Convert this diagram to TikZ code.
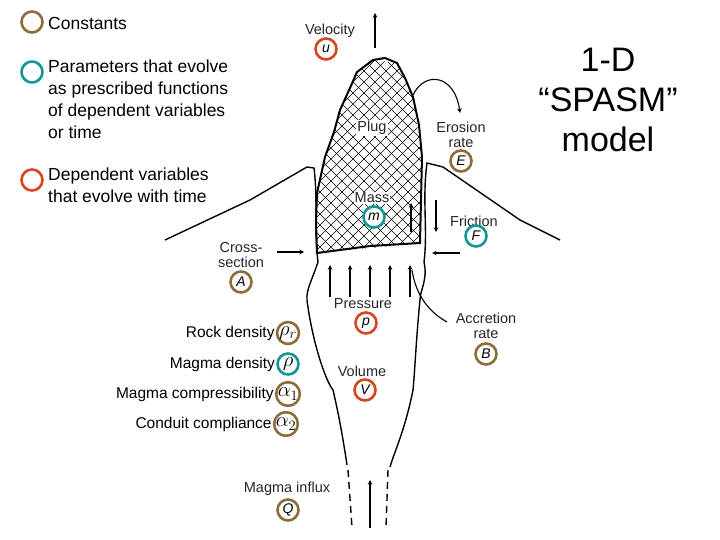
\documentclass[tikz,border=0pt]{standalone}
\usepackage{fontspec}
\setmainfont{Liberation Sans}
\definecolor{cbrown}{RGB}{140,110,60}
\definecolor{cred}{RGB}{215,70,30}
\definecolor{cteal}{RGB}{20,150,150}
\begin{document}
\begin{tikzpicture}[x=1pt,y=-1pt,
 circ/.style={circle,draw=#1,line width=2.6pt,minimum size=21pt,inner sep=0pt,font=\fontsize{14}{14}\selectfont\itshape},
 gk/.style={circ=#1,font=\fontsize{22}{22}\selectfont},
 lbl/.style={font=\fontsize{14.5}{15}\selectfont,align=center,text=black!85},
 leg/.style={font=\fontsize{17.5}{22}\selectfont,align=left,anchor=north west,inner sep=0pt},
 lst/.style={font=\fontsize{15.5}{16}\selectfont,anchor=east,inner sep=1pt},
 ar/.style={->,line width=1.1pt,>=stealth},
 wall/.style={line width=1.4pt}]
\useasboundingbox (0,0) rectangle (720,540);
% legend
\node[circ=cbrown] (l1) at (32,22) {};
\node[circ=cteal] (l2) at (32,72) {};
\node[circ=cred] (l3) at (32,180) {};
\node[leg] (t1) at (48,17) {Constants};
\node[leg] (t2) at (48,60) {Parameters that evolve\\as prescribed functions\\of dependent variables\\or time};
\node[leg] (t3) at (48,168) {Dependent variables\\that evolve with time};
% title
\node[font=\fontsize{34}{40}\selectfont,align=center] (title) at (608,100) {1-D\\“SPASM”\\model};
% volcano outline
\draw[wall] (165,240) -- (250,200) -- (307,167) -- (314,168) .. controls (318,200) and (314,230) .. (318,262) .. controls (312,280) and (306,290) .. (307,300) .. controls (312,340) and (325,380) .. (333,390) .. controls (340,420) and (344,445) .. (347,465);
\draw[wall] (560,240) -- (520,220) -- (443,167) -- (427,163) .. controls (422,200) and (428,230) .. (424,262) .. controls (428,280) and (420,290) .. (420,300) .. controls (416,340) and (415,370) .. (413,390) .. controls (405,430) and (395,450) .. (390,467);
\draw[wall,dash pattern=on 7pt off 5pt] (348,470) -- (352,527);
\draw[wall,dash pattern=on 7pt off 5pt] (388,470) -- (386,527);
% plug with coarse crosshatch
\begin{scope}
\clip (373,60) -- (397,63) -- (413,97) -- (422,157) -- (420,243) -- (317,253) -- (317,193) -- (325,157) -- (340,110) -- (357,72) -- cycle;
\foreach \k in {-20,...,20}{
 \draw[line width=0.6pt] (300+\k*11,40) -- ++(230,230);
 \draw[line width=0.6pt] (450+\k*11,40) -- ++(-230,230);}
\end{scope}
\draw[line width=2pt] (373,60) -- (385,58) -- (397,63) -- (405,78) -- (413,97) -- (419,125) -- (422,157) -- (421,200) -- (420,243) -- (370,246) -- (317,253) -- (316,222) -- (317,193) -- (325,157) -- (334,132) -- (340,110) -- (350,88) -- (357,72) -- cycle;
% arrows
\coordinate (v0) at (375,48); \coordinate (v1) at (375,13);
\draw[ar] (v0) -- (v1);
\coordinate (e0) at (413,95); \coordinate (e1) at (460,113);
\draw[ar] (e0) .. controls (425,70) and (455,75) .. (e1);
\coordinate (f0) at (411,232); \coordinate (f1) at (411,203);
\draw[ar] (f0) -- (f1);
\coordinate (g0) at (436,200); \coordinate (g1) at (436,232);
\draw[ar] (g0) -- (g1);
\coordinate (c0) at (277,252); \coordinate (c1) at (304,252);
\draw[ar] (c0) -- (c1);
\coordinate (d0) at (460,253); \coordinate (d1) at (432,253);
\draw[ar] (d0) -- (d1);
\foreach \x in {330,350,370,390,410}{\coordinate (p0) at (\x,297); \coordinate (p1) at (\x,265); \draw[ar] (p0) -- (p1);}
\coordinate (q0) at (370,528); \coordinate (q1) at (370,480);
\draw[ar] (q0) -- (q1);
\coordinate (b0) at (447,322); \coordinate (b1) at (412,270);
\draw[line width=1.1pt] (b0) .. controls (425,310) and (415,290) .. (b1);
% labels
\node[lbl] (vel) at (330,31) {Velocity};
\node[circ=cred] (u) at (326,49) {u};
\node[lbl,fill=white,inner sep=1pt] (plug) at (372,128) {Plug};
\node[lbl,fill=white,inner sep=1pt] (mass) at (372,198) {Mass};
\node[circ=cteal,fill=white] (m) at (374,217) {m};
\node[lbl] (ero) at (461,135) {Erosion\\rate};
\node[circ=cbrown] (E) at (461,161) {E};
\node[lbl] (fri) at (474,221) {Friction};
\node[circ=cteal] (F) at (476,236) {F};
\node[lbl] (cro) at (241,255) {Cross-\\section};
\node[circ=cbrown] (A) at (241,282) {A};
\node[lbl] (pre) at (363,304) {Pressure};
\node[circ=cred] (p) at (366,323) {p};
\node[lbl] (acc) at (486,326) {Accretion\\rate};
\node[circ=cbrown] (B) at (486,354) {B};
\node[lbl] (vol) at (362,371) {Volume};
\node[circ=cred] (V) at (365,390) {V};
\node[lbl] (inf) at (287,489) {Magma influx};
\node[circ=cbrown] (Q) at (288,510) {Q};
\node[gk=cbrown] (rr) at (288,333) {$\rho_r$};
\node[gk=cteal] (rho) at (288,364) {$\rho$};
\node[gk=cbrown] (a1) at (288,394) {$\alpha_1$};
\node[gk=cbrown] (a2) at (286,424) {$\alpha_2$};
\node[lst] (trr) at (rr.west) {Rock density};
\node[lst] (trho) at (rho.west) {Magma density};
\node[lst] (ta1) at (a1.west) {Magma compressibility};
\node[lst] (ta2) at (a2.west) {Conduit compliance};
\end{tikzpicture}
\end{document}
